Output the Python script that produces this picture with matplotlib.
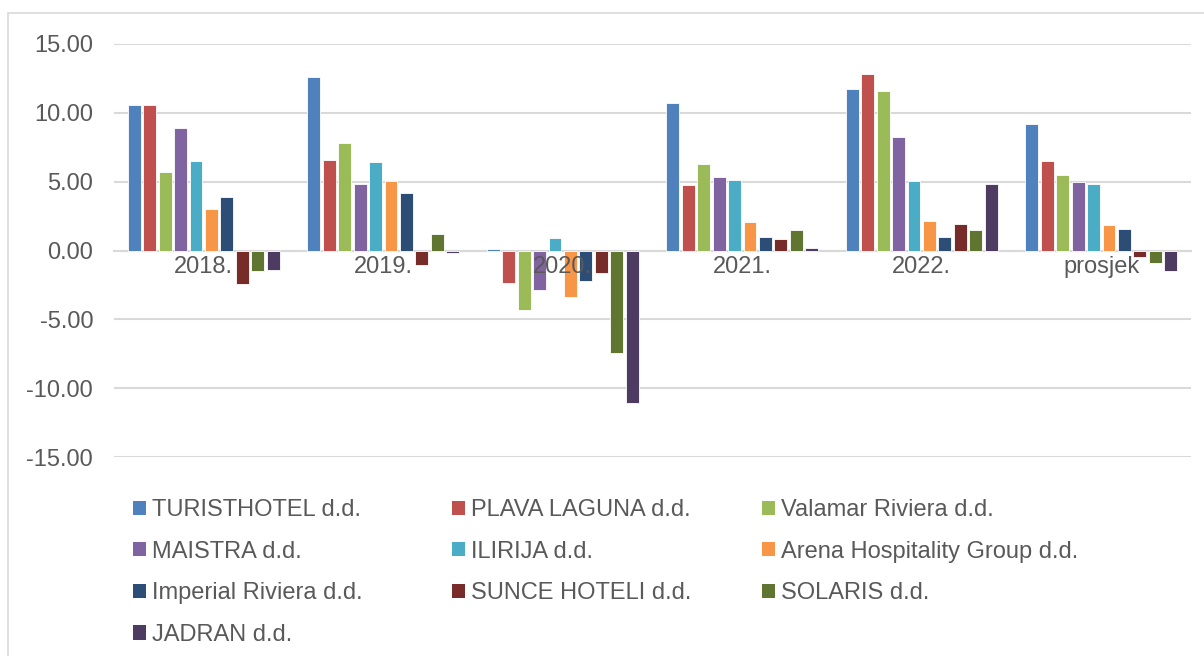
import numpy as np
import matplotlib.pyplot as plt
from matplotlib.patches import Patch, Rectangle

plt.rcParams['font.family'] = ['Liberation Sans', 'DejaVu Sans']

# --- data ---
years = ["2018.", "2019.", "2020.", "2021.", "2022.", "prosjek"]
companies = ["TURISTHOTEL d.d.", "PLAVA LAGUNA d.d.", "Valamar Riviera d.d.",
             "MAISTRA d.d.", "ILIRIJA d.d.", "Arena Hospitality Group d.d.",
             "Imperial Riviera d.d.", "SUNCE HOTELI d.d.", "SOLARIS d.d.",
             "JADRAN d.d."]
turisthotel = [10.58, 12.62, 0.10, 10.73, 11.70, 9.20]
plava_laguna = [10.58, 6.55, -2.33, 4.76, 12.79, 6.48]
valamar = [5.70, 7.81, -4.30, 6.26, 11.62, 5.46]
maistra = [8.91, 4.81, -2.85, 5.36, 8.25, 4.97]
ilirija = [6.50, 6.43, 0.93, 5.10, 5.05, 4.86]
arena = [3.01, 5.05, -3.35, 2.06, 2.16, 1.82]
imperial = [3.88, 4.15, -2.24, 0.97, 0.97, 1.58]
sunce = [-2.40, -1.02, -1.66, 0.82, 1.89, -0.44]
solaris = [-1.46, 1.17, -7.43, 1.46, 1.50, -0.92]
jadran = [-1.43, -0.20, -11.10, 0.17, 4.85, -1.50]
series = [turisthotel, plava_laguna, valamar, maistra, ilirija, arena,
          imperial, sunce, solaris, jadran]

colors = ['#4F81BD', '#C0504D', '#9BBB59', '#8064A2', '#4BACC6', '#F79646',
          '#2C4D75', '#772C2A', '#5F7530', '#4D3B62']

txt = '#595959'
fs = 17

fig = plt.figure(figsize=(12.04, 6.56), dpi=100)
ax = fig.add_axes([114 / 1204, 1 - 457 / 656, (1191 - 114) / 1204, (457 - 44) / 656])

x = np.arange(len(years))
slot = 0.086
width = 0.072
for i, (vals, c) in enumerate(zip(series, colors)):
    off = (i - 4.5) * slot
    ax.bar(x + off, vals, width=width, color=c, edgecolor='white', linewidth=0.6,
           label=companies[i], zorder=3)

ax.set_xlim(-0.5, len(years) - 0.5)
ax.set_ylim(-15, 15)
ax.set_yticks(np.arange(-15, 16, 5))
ax.set_yticklabels([f"{v:.2f}" for v in np.arange(-15, 16, 5)])
ax.yaxis.grid(True, color='#D9D9D9', linewidth=1.5, zorder=0)
ax.set_axisbelow(True)

ax.set_xticks(x)
ax.set_xticklabels([])
for s in ['top', 'right', 'left']:
    ax.spines[s].set_visible(False)
ax.spines['bottom'].set_position(('data', 0))
ax.spines['bottom'].set_color('#D9D9D9')
ax.spines['bottom'].set_linewidth(1.5)
ax.tick_params(axis='both', length=0, labelsize=fs, labelcolor=txt)
ax.tick_params(axis='y', pad=15)

# category labels sit just under the zero line, drawn over the bars
for xi, lab in zip(x, years):
    ax.annotate(lab, (xi, 0), xytext=(0, -4), textcoords='offset points',
                ha='center', va='top', fontsize=fs, color=txt, zorder=5)

# legend: three columns, rows read across
col_x = [133 / 1204, 452 / 1204, 762 / 1204]
for col in range(3):
    idx = list(range(col, len(companies), 3))
    handles = [Patch(facecolor=colors[k], edgecolor='none') for k in idx]
    labels = [companies[k] for k in idx]
    fig.legend(handles, labels, loc='upper left',
               bbox_to_anchor=(col_x[col], 1 - 499 / 656),
               frameon=False, fontsize=fs, labelcolor=txt,
               handlelength=0.55, handleheight=0.55, handletextpad=0.25,
               labelspacing=0.83, borderpad=0, borderaxespad=0)

# chart border
fig.patches.append(Rectangle((8 / 1204, -0.1), 1.2, 1 - 13 / 656 + 0.1,
                             transform=fig.transFigure, fill=False,
                             edgecolor='#D9D9D9', linewidth=1.2))

fig.savefig('out.png', dpi=100)
